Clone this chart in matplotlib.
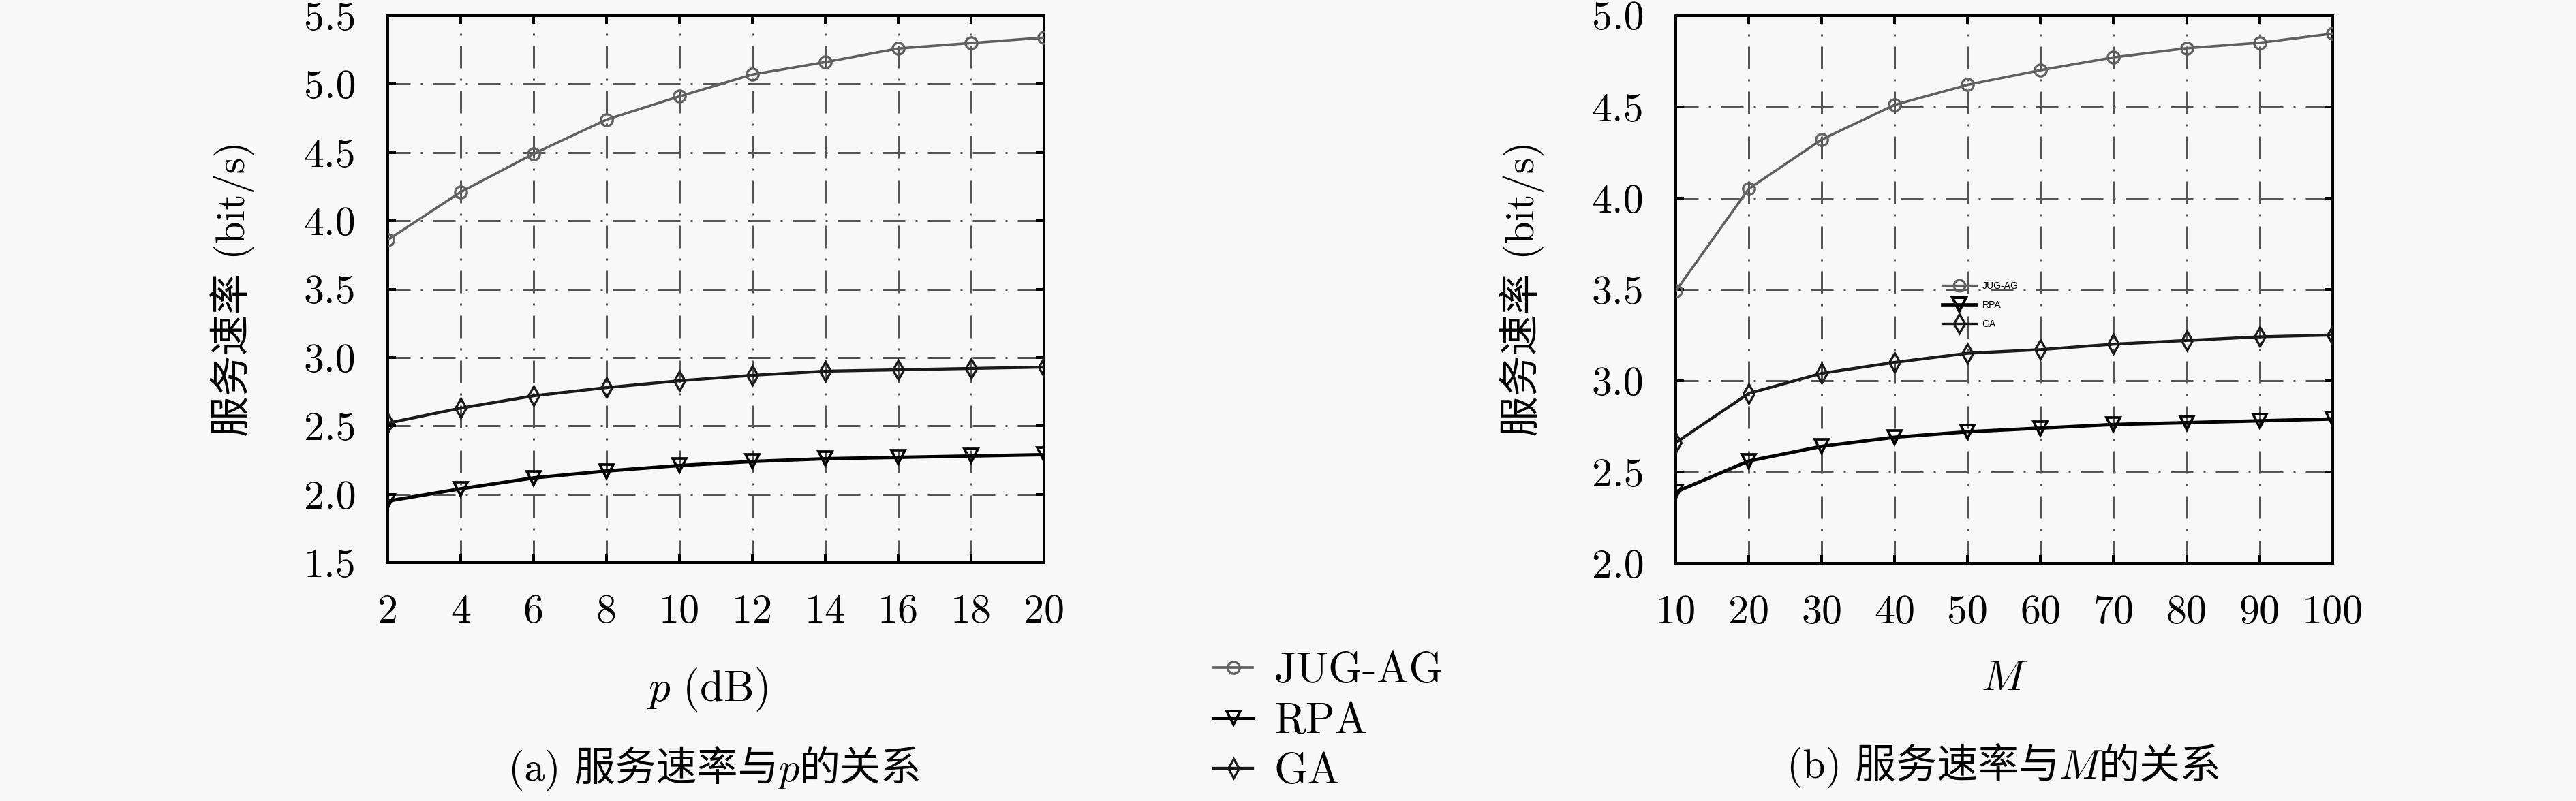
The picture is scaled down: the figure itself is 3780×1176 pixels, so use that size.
import matplotlib
matplotlib.use("Agg")
import matplotlib.pyplot as plt
from matplotlib.lines import Line2D
from matplotlib.offsetbox import TextArea, HPacker, AnnotationBbox

plt.rcParams['font.family'] = ['cmr10', 'Noto Sans CJK SC', 'DejaVu Sans']
plt.rcParams['mathtext.fontset'] = 'cm'
plt.rcParams['axes.formatter.use_mathtext'] = True

# ---------------- data ----------------
p_db = [2, 4, 6, 8, 10, 12, 14, 16, 18, 20]
jug_p = [3.86, 4.21, 4.49, 4.74, 4.91, 5.07, 5.16, 5.26, 5.30, 5.34]
rpa_p = [1.95, 2.04, 2.12, 2.17, 2.21, 2.24, 2.26, 2.27, 2.28, 2.29]
ga_p = [2.52, 2.63, 2.72, 2.78, 2.83, 2.87, 2.90, 2.91, 2.92, 2.93]

m_vals = [10, 20, 30, 40, 50, 60, 70, 80, 90, 100]
jug_m = [3.49, 4.05, 4.32, 4.51, 4.62, 4.70, 4.77, 4.82, 4.85, 4.90]
rpa_m = [2.39, 2.56, 2.64, 2.69, 2.72, 2.74, 2.76, 2.77, 2.78, 2.79]
ga_m = [2.66, 2.93, 3.04, 3.10, 3.15, 3.17, 3.20, 3.22, 3.24, 3.25]

series_names = ["JUG-AG", "RPA", "GA"]
yticks_a = [1.5, 2.0, 2.5, 3.0, 3.5, 4.0, 4.5, 5.0, 5.5]
yticks_b = [2.0, 2.5, 3.0, 3.5, 4.0, 4.5, 5.0]
ylabel_txt = "服务速率 (bit/s)"

BG = '#f8f8f8'
GRAY = '#606060'
FS = 18

fig = plt.figure(figsize=(15.75, 4.9), dpi=240, facecolor=BG)
ax1 = fig.add_axes([0.1505, 0.2976, 0.2548, 0.6828])
ax2 = fig.add_axes([0.6505, 0.2968, 0.2550, 0.6840])

styles = [
    dict(color=GRAY, marker='o', lw=1.1, ms=5.2, mew=1.0, mfc='none', mec=GRAY),
    dict(color='black', marker='v', lw=1.5, ms=5.8, mew=1.1, mfc='none', mec='black'),
    dict(color='#1a1a1a', marker='d', lw=1.3, ms=5.8, mew=1.0, mfc='none', mec='#1a1a1a'),
]

grid_ls = (0, (11, 5, 1, 5))


def style_axes(ax, xt, yt, xlim, ylim):
    ax.set_facecolor(BG)
    ax.set_xlim(*xlim)
    ax.set_ylim(*ylim)
    ax.set_xticks(xt)
    ax.set_yticks(yt)
    ax.set_xticklabels([str(v) for v in xt])
    ax.set_yticklabels(["%.1f" % v for v in yt])
    ax.tick_params(direction='in', length=3.6, width=1.2, top=True, right=True,
                   labelsize=FS, pad=14, colors='black')
    for s in ax.spines.values():
        s.set_linewidth(1.2)
    ax.grid(True, color='#555555', lw=0.9, ls=grid_ls)
    ax.set_axisbelow(True)


for ax, x, ys in [(ax1, p_db, [jug_p, rpa_p, ga_p]), (ax2, m_vals, [jug_m, rpa_m, ga_m])]:
    for y, st, nm in zip(ys, styles, series_names):
        ax.plot(x, y, label=nm, zorder=3, **st)

style_axes(ax1, p_db, yticks_a, (2, 20), (1.5, 5.5))
style_axes(ax2, m_vals, yticks_b, (10, 100), (2.0, 5.0))

# y labels
fig.text(0.0905, 0.6395, ylabel_txt, rotation=90, ha='center', va='center', fontsize=FS)
fig.text(0.591, 0.6395, ylabel_txt, rotation=90, ha='center', va='center', fontsize=FS)

# x labels
fig.text(0.2745, 0.139, r"$p\ \mathrm{(dB)}$", ha='center', va='center', fontsize=FS + 1)
fig.text(0.778, 0.152, r"$M$", ha='center', va='center', fontsize=FS + 1)


def caption(parts, x, y):
    boxes = []
    for txt, fam in parts:
        boxes.append(TextArea(txt, textprops=dict(fontsize=FS, family=fam)))
    hp = HPacker(children=boxes, pad=0, sep=0, align='baseline')
    ab = AnnotationBbox(hp, (x, y), xycoords='figure fraction', frameon=False,
                        box_alignment=(0.5, 0.5), pad=0)
    fig.add_artist(ab)


cjk = ['cmr10', 'Noto Sans CJK SC']
caption([("(a) 服务速率与", cjk), ("p", ['cmmi10']), ("的关系", cjk)], 0.2775, 0.040)
caption([("(b) 服务速率与", cjk), ("M", ['cmmi10']), ("的关系", cjk)], 0.778, 0.043)

# main figure legend
handles = [Line2D([], [], **st) for st in styles]
fig.legend(handles, series_names, loc='upper left', bbox_to_anchor=(0.4712, 0.186),
           frameon=False, fontsize=FS + 1, handlelength=0.9, handletextpad=0.5,
           labelspacing=0.25, borderpad=0, borderaxespad=0)

# tiny legend inside right subplot
small_styles = [
    dict(color=GRAY, marker='o', lw=1.0, ms=5, mew=1.0, mfc='none', mec=GRAY),
    dict(color='black', marker='v', lw=1.4, ms=6, mew=1.2, mfc='none', mec='black'),
    dict(color='#1a1a1a', marker='d', lw=1.0, ms=6, mew=1.0, mfc='none', mec='#1a1a1a'),
]
sh = [Line2D([], [], **st) for st in small_styles]
ax2.legend(sh, series_names, loc='upper left', bbox_to_anchor=(0.4055, 0.515),
           frameon=False, prop=dict(family='Liberation Sans', size=4.2),
           handlelength=3.6, handletextpad=0.6, labelspacing=1.0, borderpad=0,
           borderaxespad=0)

fig.savefig("out.png", dpi=240, facecolor=BG)
